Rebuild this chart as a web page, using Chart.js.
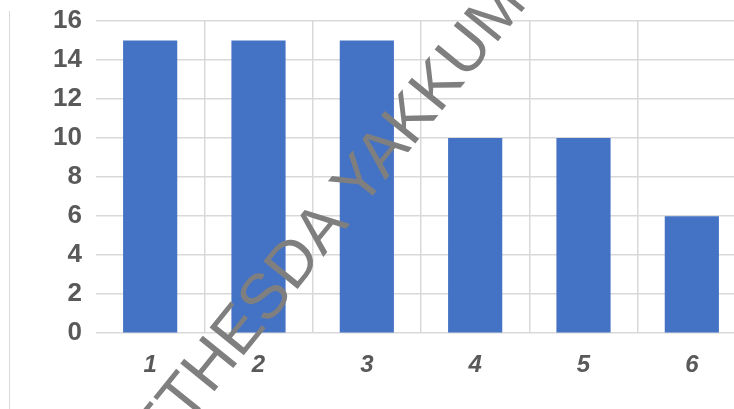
<!DOCTYPE html>
<html>
<head>
<meta charset="utf-8">
<script src="https://cdn.jsdelivr.net/npm/chart.js@4"></script>
<style>
  html, body { margin: 0; padding: 0; background: #fff; overflow: hidden; }
  .wrap { position: relative; width: 734px; height: 409px; overflow: hidden; }
  .edge { position: absolute; left: 9px; top: 11px; bottom: 0; width: 1px; background: #d9d9d9; }
  canvas { position: absolute; left: 0; top: 0; }
</style>
</head>
<body>
<div class="wrap">
  <div class="edge"></div>
  <canvas id="chart" width="746" height="409"></canvas>
</div>
<script>
const categories = ['1', '2', '3', '4', '5', '6'];
const values = [15, 15, 15, 10, 10, 6];
const yMin = 0, yMax = 16, yStep = 2;
const watermark = 'BETHESDA YAKKUM';

// diagonal grey stamp over the chart
const stampPlugin = {
  id: 'stamp',
  afterDraw(chart) {
    const ctx = chart.ctx;
    ctx.save();
    ctx.translate(133, 492);
    ctx.rotate(-51 * Math.PI / 180);
    ctx.font = '64px "Liberation Sans", Arial, sans-serif';
    ctx.fillStyle = '#7f7f7f';
    ctx.textBaseline = 'alphabetic';
    ctx.fillText(watermark, 0, 0);
    ctx.restore();
  }
};

new Chart(document.getElementById('chart').getContext('2d'), {
  type: 'bar',
  data: {
    labels: categories,
    datasets: [{
      data: values,
      backgroundColor: '#4472C4',
      borderWidth: 0,
      categoryPercentage: 1,
      barPercentage: 0.5
    }]
  },
  options: {
    responsive: false,
    animation: false,
    layout: { padding: { top: 21, bottom: 11, left: 0, right: 0 } },
    plugins: { legend: { display: false }, tooltip: { enabled: false } },
    scales: {
      x: {
        grid: {
          color: (c) => c.index === 0 ? 'rgba(0,0,0,0)' : '#d9d9d9',
          lineWidth: 1.5,
          drawTicks: false
        },
        border: { display: false },
        ticks: {
          padding: 18,
          color: '#595959',
          font: { family: '"Liberation Sans", Arial, sans-serif', size: 24, weight: 'bold', style: 'italic' }
        }
      },
      y: {
        min: yMin,
        max: yMax,
        afterFit: (s) => { s.width = 96; s.paddingTop = 0; s.paddingBottom = 0; },
        grid: { color: '#d9d9d9', lineWidth: 1.5, drawTicks: false },
        border: { display: false },
        ticks: {
          stepSize: yStep,
          padding: 14,
          color: '#595959',
          font: { family: '"Liberation Sans", Arial, sans-serif', size: 26, weight: 'bold' }
        }
      }
    }
  },
  plugins: [stampPlugin]
});
</script>
</body>
</html>
